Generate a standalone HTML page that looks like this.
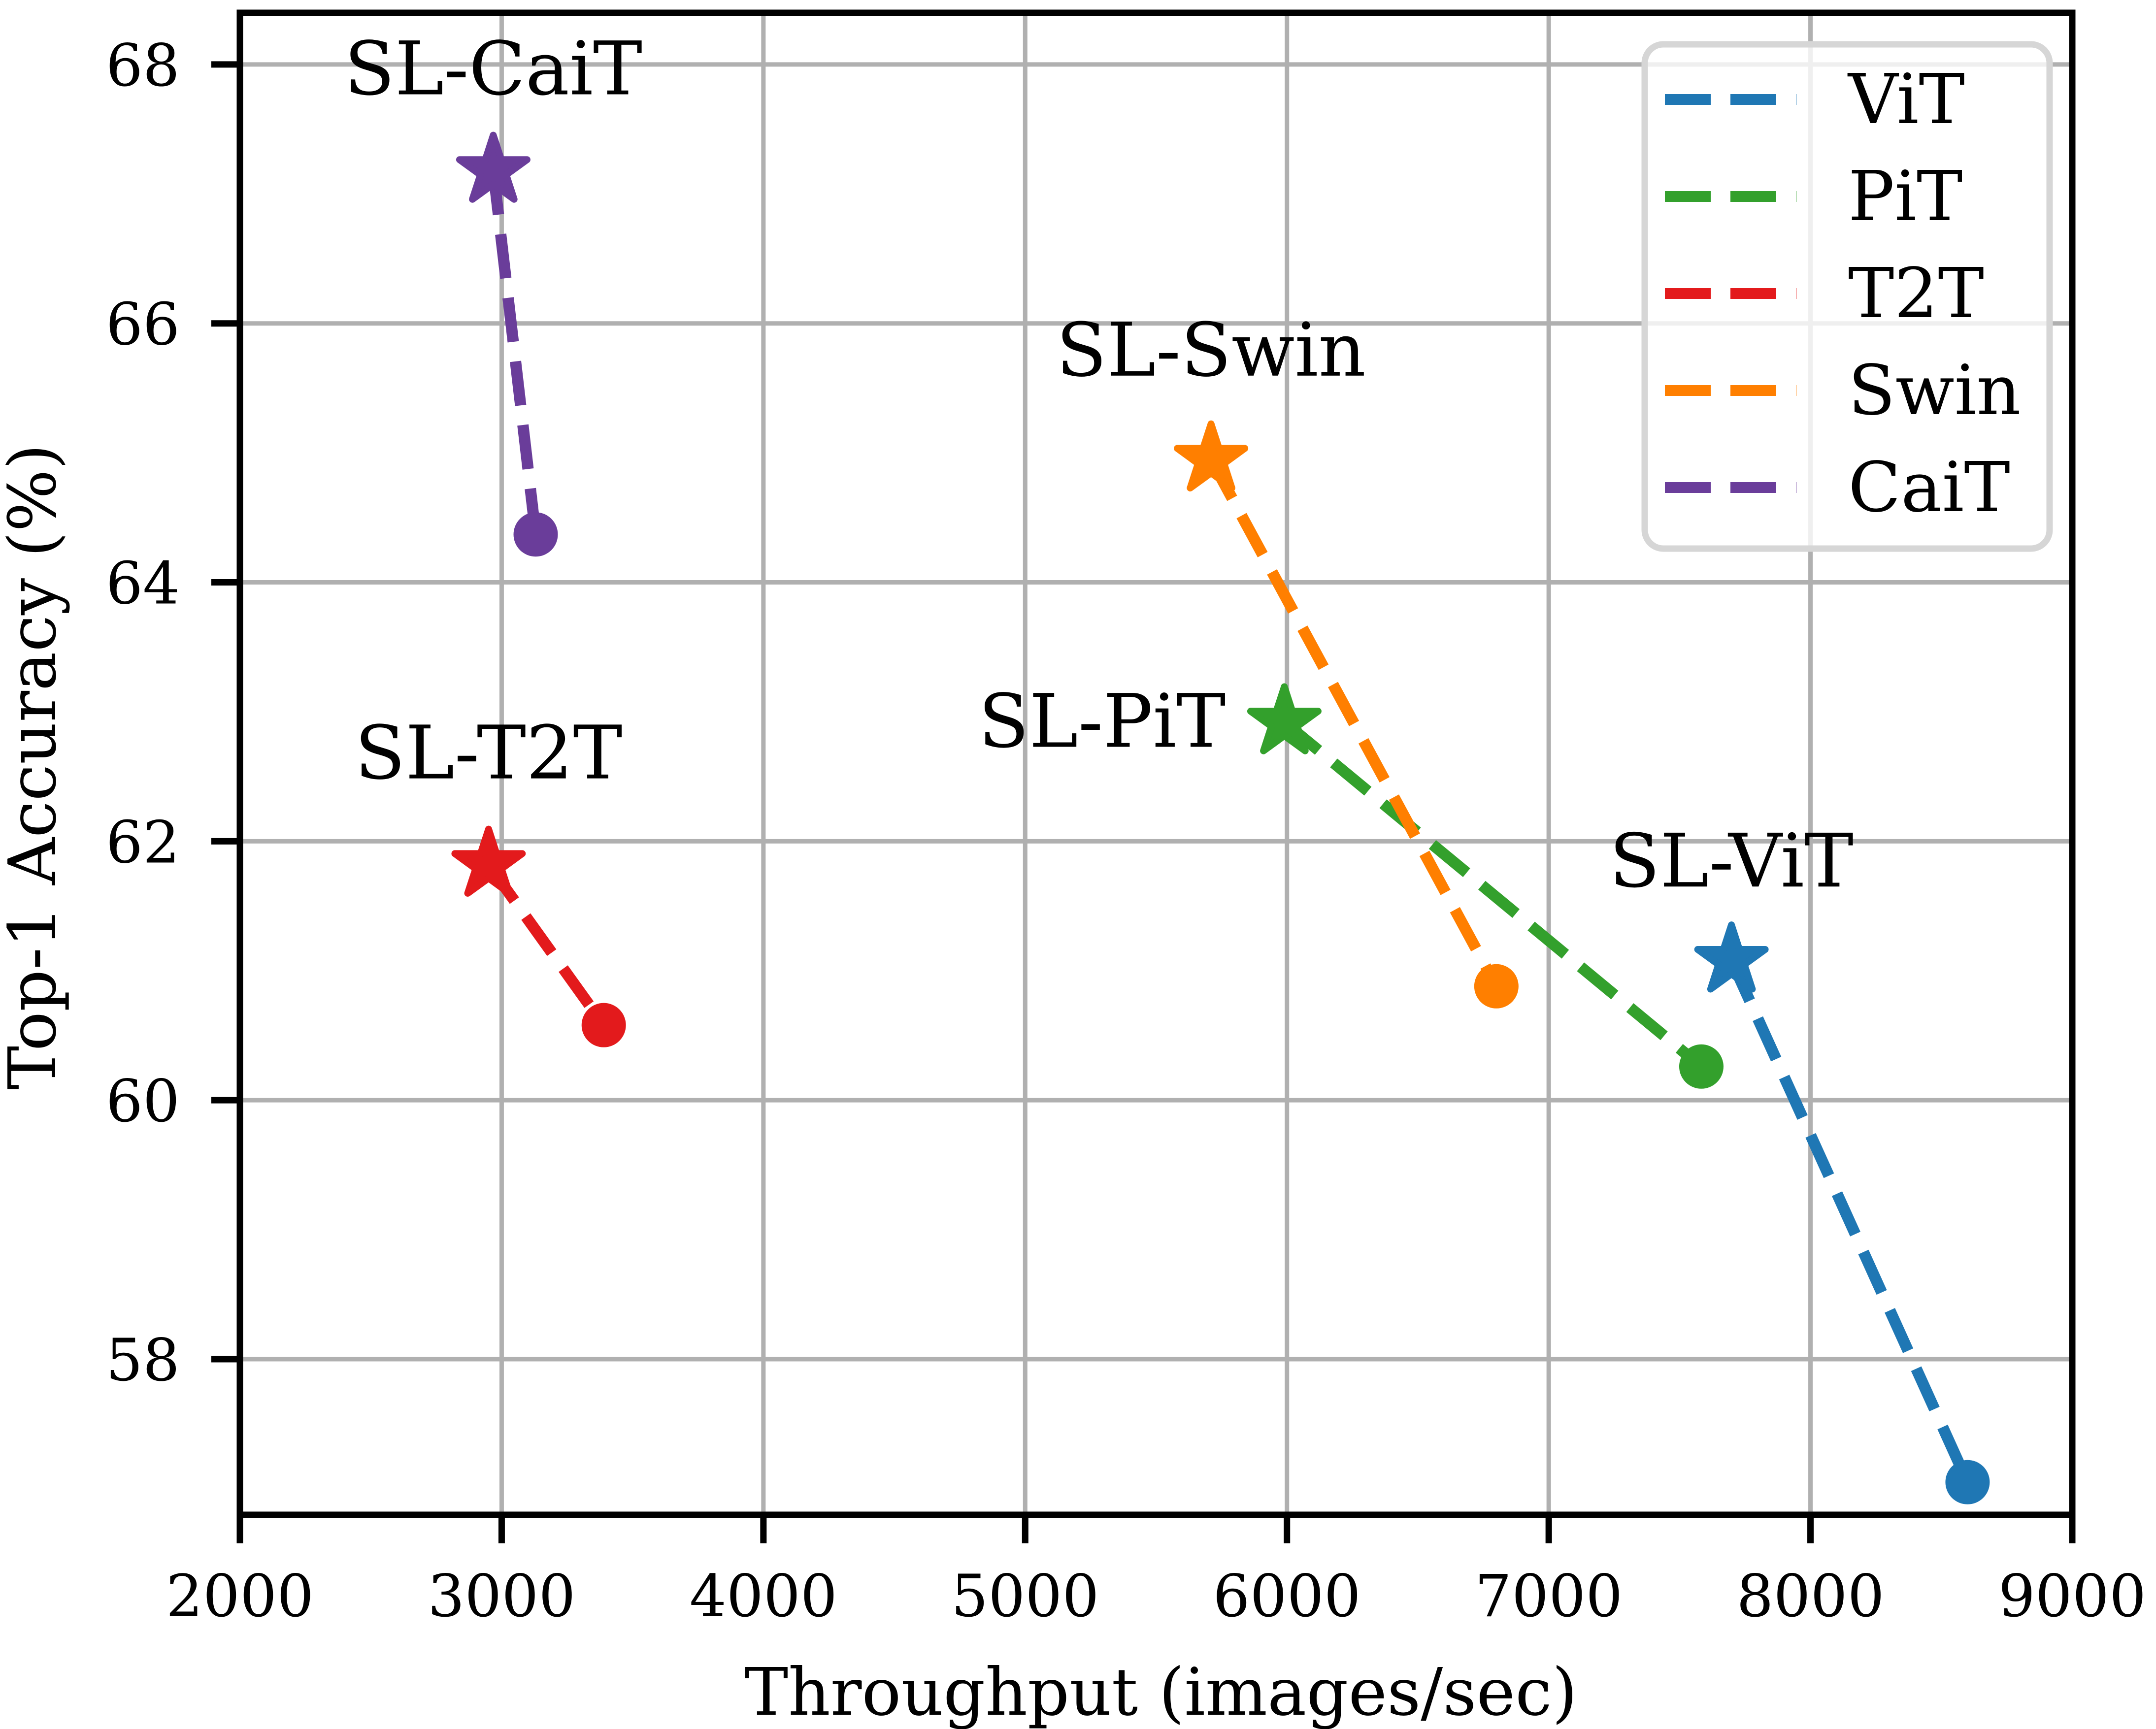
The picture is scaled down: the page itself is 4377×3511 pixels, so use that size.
<!DOCTYPE html>
<html><head><meta charset="utf-8"><style>
html,body{margin:0;padding:0;background:#fff;}
svg{display:block;}
text{font-family:"DejaVu Serif","Liberation Serif",serif;fill:#000;}
</style></head><body>
<svg id="chart" width="4377" height="3511" viewBox="0 0 4377 3511" xmlns="http://www.w3.org/2000/svg">
<g id="grid"></g>
<g id="series"></g>
<rect x="487" y="26" width="3720" height="3050" fill="none" stroke="#000" stroke-width="13"/>
<g id="ticks"></g>
<g id="labels"></g>
<text x="2357" y="3482" font-size="133" text-anchor="middle">Throughput (images/sec)</text>
<text transform="translate(112,1557) rotate(-90)" font-size="133" text-anchor="middle">Top-1 Accuracy (%)</text>
<g id="legend"></g>
</svg>
<script>
const seriesNames = ["ViT","PiT","T2T","Swin","CaiT"];
const colors = ["#1f77b4","#33a02c","#e31a1c","#ff7f00","#6a3d9a"];
const starX = [7698, 5990, 2950, 5710, 2968];
const starY = [61.08, 62.92, 61.82, 64.95, 67.18];
const circX = [8600, 7583, 3390, 6800, 3130];
const circY = [57.05, 60.26, 60.58, 60.88, 64.37];
const xTicks = [2000,3000,4000,5000,6000,7000,8000,9000];
const yTicks = [58,60,62,64,66,68];
const annoText = ["SL-ViT","SL-PiT","SL-T2T","SL-Swin","SL-CaiT"];

const NS="http://www.w3.org/2000/svg";
const L=487,R=4207,T=26,B=3076;
const xMin=2000,xMax=9000,yMin=56.798,yMax=68.399;
const sx=v=>L+(v-xMin)/(xMax-xMin)*(R-L);
const sy=v=>B-(v-yMin)/(yMax-yMin)*(B-T);
function mk(tag,attrs,parent){const e=document.createElementNS(NS,tag);for(const k in attrs)e.setAttribute(k,attrs[k]);parent.appendChild(e);return e;}
const grid=document.getElementById('grid'),ticks=document.getElementById('ticks');
xTicks.forEach(v=>{
  const g=mk('line',{x1:sx(v),x2:sx(v),y1:T,y2:B,stroke:'#b0b0b0','stroke-width':9},grid);
  
  
  const t=mk('line',{x1:sx(v),x2:sx(v),y1:B,y2:B+58,stroke:'#000','stroke-width':13},ticks);
  
  
  const tx=mk('text',{x:sx(v),y:3282,'font-size':118,'text-anchor':'middle'},ticks);
  tx.textContent=v;
  
  
});
yTicks.forEach(v=>{
  const g=mk('line',{x1:L,x2:R,y1:sy(v),y2:sy(v),stroke:'#b0b0b0','stroke-width':9},grid);
  
  
  const t=mk('line',{x1:L-58,x2:L,y1:sy(v),y2:sy(v),stroke:'#000','stroke-width':13},ticks);
  
  
  const tx=mk('text',{x:365,y:sy(v)+43,'font-size':118,'text-anchor':'end'},ticks);
  tx.textContent=v;
  
  
});
function starPts(cx,cy,r){let p=[];for(let i=0;i<10;i++){const a=-Math.PI/2+i*Math.PI/5;const rr=i%2?r*0.382:r;p.push((cx+rr*Math.cos(a)).toFixed(1)+','+(cy+rr*Math.sin(a)).toFixed(1));}return p.join(' ');}
const ser=document.getElementById('series');
const annoDx=[0,-370,0,0,0], annoDy=[-150,50,-175,-170,-155];
const labels=document.getElementById('labels');
seriesNames.forEach((n,i)=>{
  const ln=mk('line',{x1:sx(starX[i]),y1:sy(starY[i]),x2:sx(circX[i]),y2:sy(circY[i]),stroke:colors[i],'stroke-width':23,'stroke-dasharray':'90 40'},ser);
  
  
  const c=mk('circle',{cx:sx(circX[i]),cy:sy(circY[i]),r:45,fill:colors[i]},ser);
  
  
  const s=mk('polygon',{points:starPts(sx(starX[i]),sy(starY[i]),72),fill:colors[i],stroke:colors[i],'stroke-width':14,'stroke-linejoin':'round'},ser);
  
  
  const a=mk('text',{x:sx(starX[i])+annoDx[i],y:sy(starY[i])+annoDy[i],'font-size':150,'text-anchor':'middle'},labels);
  a.textContent=annoText[i];
  
  
});
const lg=document.getElementById('legend');
const box=mk('rect',{x:3339,y:90,width:822,height:1024,rx:38,fill:'#fff','fill-opacity':0.8,stroke:'#d6d6d6','stroke-width':13},lg);


const legY=[202,399,596,793,990];
seriesNames.forEach((n,i)=>{
  const y=legY[i];
  const l=mk('line',{x1:3380,x2:3647,y1:y,y2:y,stroke:colors[i],'stroke-width':22,'stroke-dasharray':'93 40'},lg);
  
  
  const t=mk('text',{x:3752,y:y+48,'font-size':140},lg);
  t.textContent=n;
  
  
});
</script>
</body></html>
